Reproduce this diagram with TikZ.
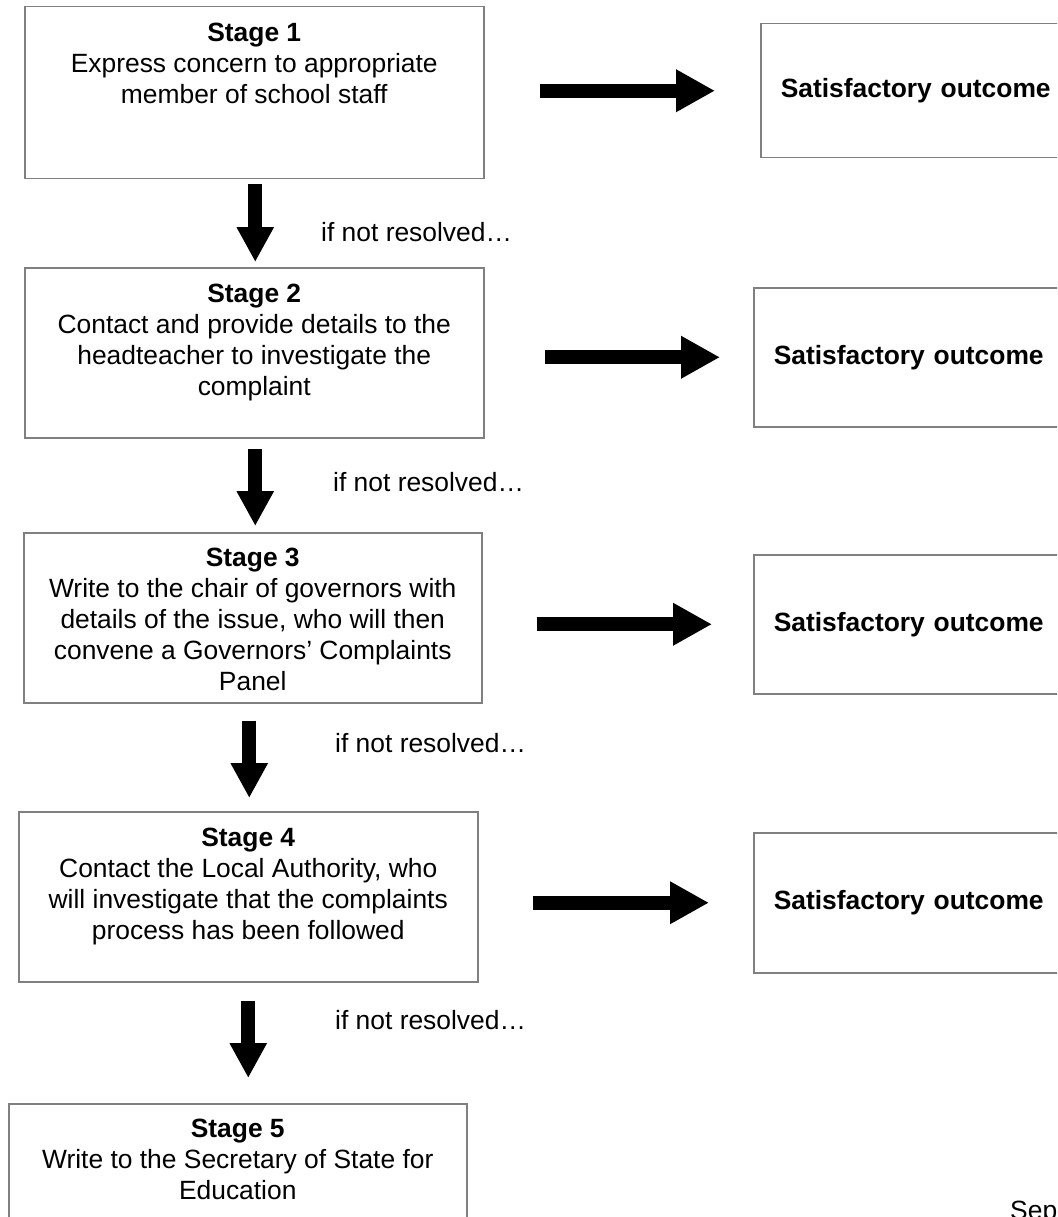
\documentclass[tikz,border=0pt]{standalone}
\usepackage{fontspec}
\setmainfont{Liberation Sans}
\usetikzlibrary{arrows.meta}
\definecolor{boxgray}{RGB}{128,128,128}
\tikzset{
  txt/.style={font=\fontsize{26.4}{31}\selectfont},
  stagebox/.style={draw=boxgray, line width=1.5pt, anchor=north west, inner sep=0pt, minimum width=#1},
  stagetext/.style={txt, anchor=north, align=center, inner sep=0pt},
  outbox/.style={draw=boxgray, line width=1.5pt, anchor=north west, inner xsep=20pt, inner ysep=0pt,
     text width=380pt, align=left, txt, font=\fontsize{26.4}{31}\selectfont\bfseries},
  harrow/.style={line width=14pt, -{Triangle[length=39pt,width=40pt]}},
  varrow/.style={line width=14pt, -{Triangle[length=35pt,width=35pt]}},
  note/.style={txt, anchor=west, inner sep=0pt}
}
\begin{document}
\begin{tikzpicture}[x=1pt,y=-1pt]
\useasboundingbox (0,0) rectangle (1057,1217);
\clip (0,0) rectangle (1057,1217);
% stage boxes
\node[stagebox=459pt, minimum height=172pt] (b1) at (24,6) {};
\node[stagebox=459pt, minimum height=170pt] (b2) at (24,267) {};
\node[stagebox=458pt, minimum height=170pt] (b3) at (23,532) {};
\node[stagebox=459pt, minimum height=170pt] (b4) at (18,811) {};
\node[stagebox=458pt, minimum height=160pt] (b5) at (8,1103) {};
% stage texts
\node[stagetext] (t1) at ([yshift=-17pt]b1.north) {\textbf{Stage 1}\\Express concern to appropriate\\member of school staff};
\node[stagetext] (t2) at ([yshift=-17pt]b2.north) {\textbf{Stage 2}\\Contact and provide details to the\\headteacher to investigate the\\complaint};
\node[stagetext] (t3) at ([yshift=-16pt]b3.north) {\textbf{Stage 3}\\Write to the chair of governors with\\details of the issue, who will then\\convene a Governors’ Complaints\\Panel};
\node[stagetext] (t4) at ([yshift=-17pt]b4.north) {\textbf{Stage 4}\\Contact the Local Authority, who\\will investigate that the complaints\\process has been followed};
\node[stagetext] (t5) at ([yshift=-16pt]b5.north) {\textbf{Stage 5}\\Write to the Secretary of State for\\Education};
% outcome boxes
\node[outbox, minimum height=134pt] (r1) at (760,23) {Satisfactory outcome};
\node[outbox, minimum height=139pt] (r2) at (753,287) {Satisfactory outcome};
\node[outbox, minimum height=139pt] (r3) at (753,554) {Satisfactory outcome};
\node[outbox, minimum height=140pt] (r4) at (753,832) {Satisfactory outcome};
% horizontal arrows
\draw[harrow, shorten <=55pt, shorten >=45pt] (b1.east |- r1.west) -- (r1.west);
\draw[harrow, shorten <=60pt, shorten >=33pt] (b2.east |- r2.west) -- (r2.west);
\draw[harrow, shorten <=54pt, shorten >=41pt] (b3.east |- r3.west) -- (r3.west);
\draw[harrow, shorten <=54pt, shorten >=44pt] (b4.east |- r4.west) -- (r4.west);
% vertical arrows
\draw[varrow, shorten <=5pt, shorten >=5pt] ([xshift=1pt]b1.south) -- ([xshift=1pt]b1.south |- b2.north);
\draw[varrow, shorten <=10pt, shorten >=6pt] ([xshift=1pt]b2.south) -- ([xshift=1pt]b2.south |- b3.north);
\draw[varrow, shorten <=17pt, shorten >=13pt] ([xshift=-3.5pt]b3.south) -- ([xshift=-3.5pt]b3.south |- b4.north);
\draw[varrow, shorten <=18pt, shorten >=25pt] (b4.south) -- (b4.south |- b5.north);
% labels
\node[note] (l1) at (321,232) {if not resolved…};
\node[note] (l2) at (333,482) {if not resolved…};
\node[note] (l3) at (335,743) {if not resolved…};
\node[note] (l4) at (335,1020) {if not resolved…};
\node[txt, anchor=base west, inner sep=0pt] (sep) at (1010,1219) {Sep};
\end{tikzpicture}
\end{document}
